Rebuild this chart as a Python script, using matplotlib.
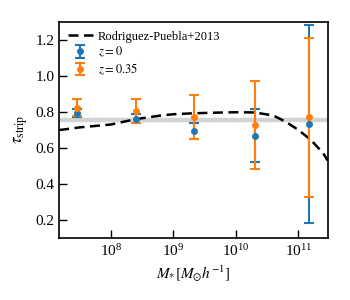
import numpy as np
import matplotlib
matplotlib.use('agg')
import matplotlib.pyplot as plt

plt.rcParams['font.family'] = ['Liberation Serif', 'DejaVu Serif']
plt.rcParams['mathtext.fontset'] = 'stix'

# Rodriguez-Puebla+2013 relation
rp_logm = [7.17, 7.5, 8.0, 8.4, 8.8, 9.0, 9.3, 9.7, 10.0, 10.3, 10.6, 10.8, 11.0, 11.2, 11.4, 11.47]
rp_tau = [0.699, 0.714, 0.73, 0.76, 0.78, 0.787, 0.792, 0.796, 0.798, 0.797, 0.78, 0.745, 0.70, 0.645, 0.57, 0.53]

# measured points
logm = [7.46, 8.40, 9.33, 10.31, 11.17]
tau_z0 = [0.794, 0.763, 0.693, 0.667, 0.732]
err_z0 = [0.02, 0.027, 0.045, 0.147, 0.55]
tau_z035 = [0.824, 0.805, 0.772, 0.726, 0.77]
err_z035 = [0.046, 0.068, 0.122, 0.243, 0.44]

tau_ref = 0.755

fig = plt.figure(figsize=(3.5, 3.0), dpi=100)
ax = fig.add_axes([0.169, 0.207, 0.768, 0.72])

ax.axhline(tau_ref, color='lightgrey', lw=3.2, zorder=0)
ax.plot(10**np.array(rp_logm), rp_tau, color='k', ls=(0, (4, 2.2)), lw=1.8,
        label='Rodriguez-Puebla+2013')
ax.errorbar(10**np.array(logm), tau_z0, yerr=err_z0, fmt='o', color='C0', ms=4,
            capsize=3.6, elinewidth=1.5, capthick=1.5, label=r'$z = 0$')
ax.errorbar(10**np.array(logm), tau_z035, yerr=err_z035, fmt='o', color='C1', ms=4,
            capsize=3.6, elinewidth=1.5, capthick=1.5, label=r'$z = 0.35$')

ax.set_xscale('log')
ax.set_xlim(10**7.17, 10**11.475)
ax.set_ylim(0.1, 1.3)
ax.set_yticks([0.2, 0.4, 0.6, 0.8, 1.0, 1.2])
ax.set_xticks([1e8, 1e9, 1e10, 1e11])
ax.minorticks_off()
ax.tick_params(direction='in', length=6, width=1, labelsize=11)
for s in ax.spines.values():
    s.set_linewidth(1.2)
ax.set_xlabel(r'$M_{*}[M_{\odot}h^{-1}]$', fontsize=11)
ax.set_ylabel(r'$\tau_{\rm strip}$', fontsize=12)
ax.legend(loc='upper left', frameon=False, fontsize=9, handlelength=2.0,
          handletextpad=0.4, borderaxespad=0.3, labelspacing=0.2)

plt.savefig('out.png', dpi=100)
